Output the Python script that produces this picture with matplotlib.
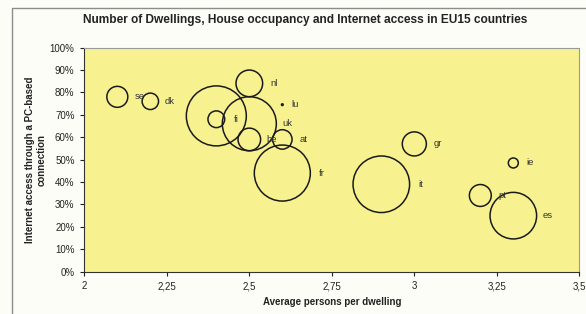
import numpy as np
import matplotlib
matplotlib.use('Agg')
import matplotlib.pyplot as plt
from matplotlib.patches import Rectangle
from matplotlib.ticker import FuncFormatter

plt.rcParams['font.family'] = ['Liberation Sans', 'DejaVu Sans']

# EU15 countries
paises = ["se", "dk", "de", "fi", "nl", "lu", "uk", "be", "at", "fr", "gr", "it", "ie", "pt", "es"]
personas = [2.1, 2.2, 2.4, 2.4, 2.5, 2.6, 2.5, 2.5, 2.6, 2.6, 3.0, 2.9, 3.3, 3.2, 3.3]   # avg persons per dwelling
internet = [78, 76, 69.5, 68, 84, 74.5, 66, 59, 59, 44, 57, 39, 48.5, 34, 25]          # % access
viviendas = [4.4, 2.7, 36.0, 2.8, 7.1, 0.03, 29.2, 5.1, 3.8, 31.4, 5.8, 32.0, 1.0, 4.8, 21.7]  # millions of dwellings
etiquetas = ["se", "dk", "", "fi", "nl", "lu", "uk", "be", "at", "fr", "gr", "it", "ie", "pt", "es"]

escala = 51.8  # area scale (pt^2 per million)

fig = plt.figure(figsize=(5.86, 3.14), dpi=100)
fig.patch.set_facecolor('#fdfdf8')
ax = fig.add_axes([0.1439, 0.1347, 0.9886 - 0.1439, 0.8487 - 0.1347])
ax.set_facecolor('#f7f28f')

tam = np.array(viviendas) * escala
ax.scatter(personas, internet, s=tam, facecolors='none', edgecolors='#1a1a1a', linewidths=1.1, zorder=3)

# etiquetas a la derecha de cada burbuja
for i in range(len(paises)):
    if etiquetas[i] == "":
        continue
    r_pt = np.sqrt(tam[i]) / 2
    ax.annotate(etiquetas[i], (personas[i], internet[i]), xytext=(r_pt + 8.3, 0),
                textcoords='offset points', ha='center', va='center', fontsize=6.8, color='#333333', zorder=4)

ax.set_xlim(2, 3.5)
ax.set_ylim(0, 100)
ax.set_xticks([2, 2.25, 2.5, 2.75, 3, 3.25, 3.5])
ax.xaxis.set_major_formatter(FuncFormatter(lambda v, p: ('%g' % v).replace('.', ',')))
ax.set_yticks(np.arange(0, 101, 10))
ax.yaxis.set_major_formatter(FuncFormatter(lambda v, p: '%d%%' % v))
ax.tick_params(labelsize=7, colors='#222222', length=3, width=0.8, pad=4)

for lado in ['top', 'right']:
    ax.spines[lado].set_color('#9a9a9a')
for lado in ['left', 'bottom']:
    ax.spines[lado].set_color('#333333')

ax.set_xlabel("Average persons per dwelling", fontsize=7, fontweight='bold', color='#222222', labelpad=4)
ax.set_ylabel("Internet access through a PC-based\nconnection", fontsize=7, fontweight='bold', color='#222222',
              labelpad=2, multialignment='center')

fig.text(0.521, 0.935, "Number of Dwellings, House occupancy and Internet access in EU15 countries",
         ha='center', va='center', fontsize=8.6, fontweight='bold', color='#222222')

# marco exterior
fig.patches.append(Rectangle((12 / 586, -0.1), 1.1, (314 - 8) / 314 + 0.1, transform=fig.transFigure,
                             fill=False, edgecolor='#8c8c8c', linewidth=1))

fig.savefig("out.png", dpi=100, facecolor=fig.get_facecolor())
